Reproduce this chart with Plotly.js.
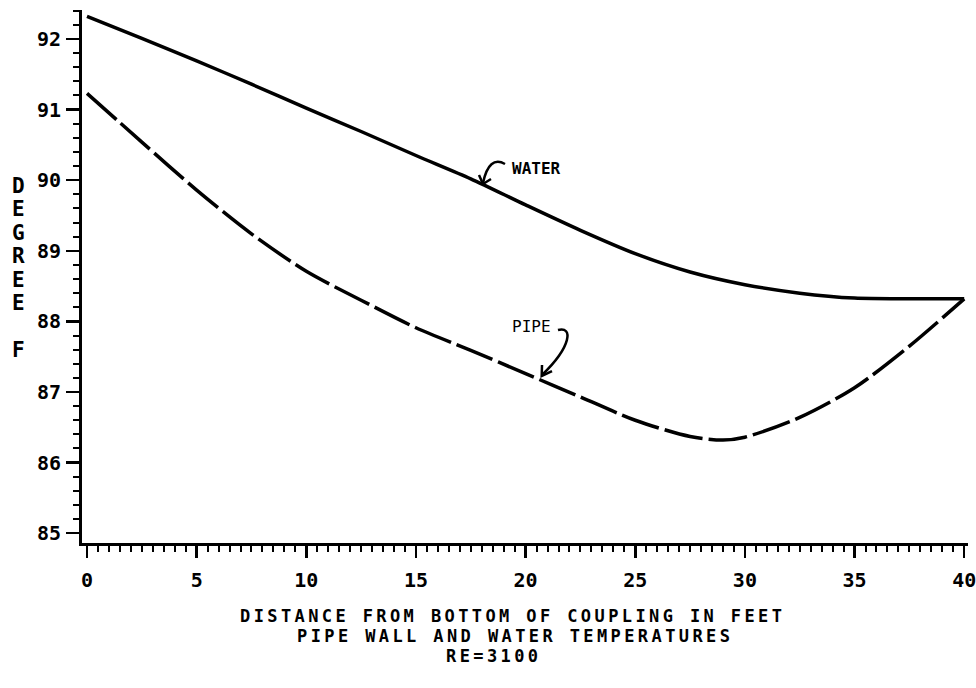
<!DOCTYPE html>
<html><head><meta charset="utf-8">
<script src="https://cdn.plot.ly/plotly-3.0.1.min.js"></script>
<style>html,body{margin:0;padding:0;background:#fff}</style>
</head><body>
<div id="chart" style="width:976px;height:688px"></div>
<script>
// ---- data ----
const waterDistance = [0, 2.5, 5, 7.5, 10, 12.5, 15, 17.5, 20, 22.5, 25, 27.5, 30, 32.5, 35, 37.5, 40];
const waterTemp = [92.32, 92.01, 91.69, 91.36, 91.02, 90.69, 90.35, 90.02, 89.65, 89.29, 88.96, 88.70, 88.52, 88.40, 88.33, 88.32, 88.32];
const pipeDistance = [0, 2.5, 5, 7.5, 10, 12.5, 15, 17.5, 20, 22.5, 25, 27.5, 29, 30, 32.5, 35, 37.5, 40];
const pipeTemp = [91.23, 90.54, 89.86, 89.24, 88.71, 88.30, 87.91, 87.59, 87.26, 86.93, 86.60, 86.37, 86.32, 86.36, 86.64, 87.06, 87.65, 88.32];
const xTickVals = [0, 5, 10, 15, 20, 25, 30, 35, 40];
const yTickVals = [85, 86, 87, 88, 89, 90, 91, 92];
const yTitleLetters = ['D', 'E', 'G', 'R', 'E', 'E', '', 'F'];
const bottomLines = ['DISTANCE FROM BOTTOM OF COUPLING IN FEET', 'PIPE WALL AND WATER TEMPERATURES', 'RE=3100'];

// ---- layout helpers (plot area geometry) ----
const L = 82, R = 968, T = 10, B = 543;
const xRange = [-0.228, 40.173], yRange = [84.861, 92.411];
const px2x = p => xRange[0] + (p - L) / (R - L) * (xRange[1] - xRange[0]);
const py2y = p => yRange[1] - (p - T) / (B - T) * (yRange[1] - yRange[0]);
const pt = (a, b) => px2x(a).toFixed(3) + ',' + py2y(b).toFixed(3);
const paperX = p => (p - L) / (R - L);
const paperY = p => (B - p) / (B - T);

const FONT = 'DejaVu Sans Mono';
const black = '#000';

const traces = [
  {x: waterDistance, y: waterTemp, mode: 'lines', line: {color: black, width: 3.5, shape: 'spline', smoothing: 0.8}, hoverinfo: 'skip'},
  {x: pipeDistance, y: pipeTemp, mode: 'lines', line: {color: black, width: 3.5, dash: '39px,6px', shape: 'spline', smoothing: 0.8}, hoverinfo: 'skip'}
];

const annotations = [];
yTitleLetters.forEach((ch, i) => {
  if (!ch) return;
  annotations.push({xref: 'paper', yref: 'paper', x: paperX(18), y: paperY(186 + i * 23.4),
    xanchor: 'center', yanchor: 'middle', showarrow: false, text: ch,
    font: {family: FONT, size: 21, color: black, weight: 700}});
});
const lineCenters = [[512, 616], [515, 636], [493, 656]];
bottomLines.forEach((t, i) => {
  annotations.push({xref: 'paper', yref: 'paper', x: paperX(lineCenters[i][0]), y: paperY(lineCenters[i][1]),
    xanchor: 'center', yanchor: 'middle', showarrow: false,
    text: '<span style="letter-spacing:3.4px">' + t + '</span>',
    font: {family: FONT, size: 17, color: black, weight: 700}});
});
annotations.push({xref: 'paper', yref: 'paper', x: paperX(536), y: paperY(168.5), xanchor: 'center', yanchor: 'middle',
  showarrow: false, text: 'WATER', font: {family: FONT, size: 16, color: black, weight: 700}});
annotations.push({xref: 'paper', yref: 'paper', x: paperX(531), y: paperY(326.5), xanchor: 'center', yanchor: 'middle',
  showarrow: false, text: 'PIPE', font: {family: FONT, size: 16, color: black, weight: 400}});

const arrowLine = {color: black, width: 2.5};
const shapes = [
  {type: 'path', xref: 'x', yref: 'y', path: 'M' + pt(505, 164) + ' Q' + pt(489, 155) + ' ' + pt(483, 183), line: arrowLine},
  {type: 'path', xref: 'x', yref: 'y', path: 'M' + pt(479, 175) + ' L' + pt(483, 184) + ' L' + pt(491, 179), line: arrowLine},
  {type: 'path', xref: 'x', yref: 'y', path: 'M' + pt(558, 330) + ' C' + pt(573, 326) + ' ' + pt(572, 346) + ' ' + pt(542, 375), line: arrowLine},
  {type: 'path', xref: 'x', yref: 'y', path: 'M' + pt(542, 365) + ' L' + pt(541.7, 376) + ' L' + pt(552, 371), line: arrowLine}
];

const axisCommon = {
  showline: true, linewidth: 3, linecolor: black, showgrid: false, zeroline: false,
  ticks: 'outside', tickwidth: 2.5, tickcolor: black, ticklabeloverflow: 'allow',
  tickfont: {family: FONT, size: 20, color: black, weight: 700}
};

const layout = {
  width: 976, height: 688,
  margin: {l: L, r: 976 - R, t: T, b: 688 - B, pad: 0},
  paper_bgcolor: '#fff', plot_bgcolor: '#fff', showlegend: false,
  xaxis: Object.assign({}, axisCommon, {
    range: xRange, tickmode: 'array', tickvals: xTickVals, ticktext: xTickVals.map(String),
    ticklen: 12, ticklabelstandoff: 5,
    minor: {tickmode: 'linear', tick0: 0, dtick: 0.5, ticks: 'outside', ticklen: 6, tickwidth: 2, tickcolor: black, showgrid: false}
  }),
  yaxis: Object.assign({}, axisCommon, {
    range: yRange, tickmode: 'array', tickvals: yTickVals, ticktext: yTickVals.map(String),
    ticklen: 13, ticklabelstandoff: 1,
    minor: {tickmode: 'linear', tick0: 85, dtick: 0.2, ticks: 'outside', ticklen: 6, tickwidth: 2, tickcolor: black, showgrid: false}
  }),
  annotations: annotations,
  shapes: shapes
};

Plotly.newPlot('chart', traces, layout, {displayModeBar: false, staticPlot: true});
</script>
</body></html>
